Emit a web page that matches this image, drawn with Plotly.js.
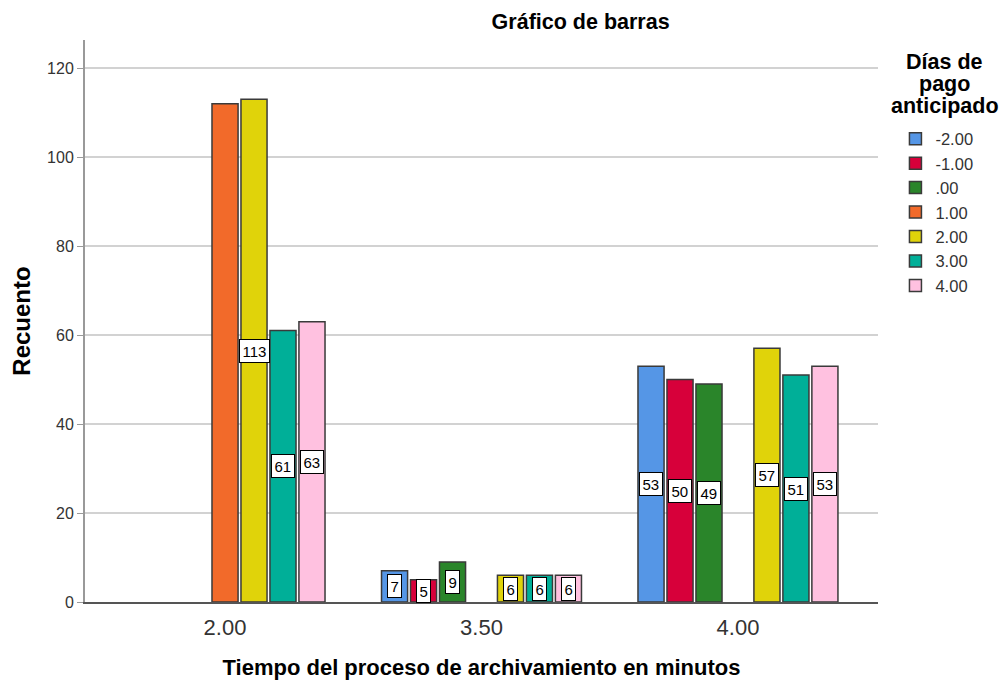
<!DOCTYPE html>
<html>
<head>
<meta charset="utf-8">
<script src="https://cdn.plot.ly/plotly-3.0.1.min.js"></script>
<style>html,body{margin:0;padding:0;background:#fff;}#chart{width:1004px;height:683px;}</style>
</head>
<body>
<div id="chart"></div>
<script>
const categories = ['2.00', '3.50', '4.00'];
const seriesNames = ['-2.00', '-1.00', '.00', '1.00', '2.00', '3.00', '4.00'];
const seriesColors = ['#5596E6', '#D7003A', '#2A852A', '#F26A2A', '#E0D30A', '#00AF98', '#FFC1E0'];
const valuesM2 = [null, 7, 53];
const valuesM1 = [null, 5, 50];
const values0  = [null, 9, 49];
const values1  = [112, null, null];
const values2  = [113, 6, 57];
const values3  = [61, 6, 51];
const values4  = [63, 6, 53];
const seriesValues = [valuesM2, valuesM1, values0, values1, values2, values3, values4];
// labels shown in the reference (the 1.00 bar at 2.00 carries no visible label)
const showLabel = [
  [false, true, true],
  [false, true, true],
  [false, true, true],
  [false, false, false],
  [true, true, true],
  [true, true, true],
  [true, true, true]
];
const legendTitleLines = ['Días de', 'pago', 'anticipado'];

const FONT = 'Liberation Sans, Arial, sans-serif';
const bargap = 0.209;
const nSeries = seriesNames.length;
const slot = (1 - bargap) / nSeries;

const traces = seriesNames.map((name, i) => ({
  type: 'bar',
  name: name,
  x: categories,
  y: seriesValues[i],
  marker: {color: seriesColors[i], line: {color: '#3a3a3a', width: 1.5}},
  hoverinfo: 'x+y+name'
}));

const annotations = [];
seriesValues.forEach((vals, i) => {
  vals.forEach((v, j) => {
    if (v === null || !showLabel[i][j]) return;
    annotations.push({
      x: j + (i - (nSeries - 1) / 2) * slot,
      y: v / 2,
      xref: 'x', yref: 'y',
      text: String(v),
      showarrow: false,
      font: {family: FONT, size: 15, color: '#000'},
      bgcolor: '#ffffff',
      bordercolor: '#000000',
      borderwidth: 1,
      borderpad: 2.5
    });
  });
});

// legend title drawn as tightly spaced lines (plot height 562 px, top margin 40 px)
legendTitleLines.forEach((line, k) => {
  annotations.push({
    xref: 'paper', yref: 'paper',
    x: 1.084, y: (602 - (62 + 22 * k)) / 562, xanchor: 'center', yanchor: 'middle',
    text: '<b>' + line + '</b>',
    showarrow: false,
    font: {family: FONT, size: 21.5, color: '#000'}
  });
});

const layout = {
  width: 1004, height: 683,
  margin: {l: 85, r: 126, t: 40, b: 81},
  paper_bgcolor: '#ffffff',
  plot_bgcolor: '#ffffff',
  barmode: 'group',
  bargap: bargap,
  bargroupgap: 0.1,
  title: {
    text: '<b>Gráfico de barras</b>',
    x: 0.625, xref: 'paper', xanchor: 'center',
    y: 0.969, yref: 'container', yanchor: 'middle',
    font: {family: FONT, size: 21.5, color: '#000'}
  },
  xaxis: {
    type: 'category',
    range: [-0.546, 2.546],
    showgrid: false,
    showline: true, linecolor: '#555', linewidth: 1.5,
    ticks: '', ticklen: 0,
    ticklabelstandoff: 5,
    tickfont: {family: FONT, size: 22, color: '#333'},
    title: {text: '<b>Tiempo del proceso de archivamiento en minutos</b>', standoff: 20,
            font: {family: FONT, size: 22, color: '#000'}},
    fixedrange: true
  },
  yaxis: {
    range: [0, 126.3],
    tickvals: [0, 20, 40, 60, 80, 100, 120],
    showgrid: true, gridcolor: '#d2d2d2', gridwidth: 2,
    zeroline: false,
    showline: true, linecolor: '#999', linewidth: 2,
    ticks: 'outside', ticklen: 6, tickcolor: '#999', tickwidth: 1,
    tickfont: {family: FONT, size: 16, color: '#333'},
    title: {text: '<b>Recuento</b>', standoff: 10,
            font: {family: FONT, size: 24, color: '#000'}},
    fixedrange: true
  },
  legend: {
    x: 1.022, xanchor: 'left',
    y: 0.855, yanchor: 'top',
    font: {family: FONT, size: 16.5, color: '#333'},
    tracegroupgap: 0,
    itemwidth: 30,
    bgcolor: 'rgba(0,0,0,0)'
  },
  showlegend: true,
  annotations: annotations
};

Plotly.newPlot('chart', traces, layout, {displayModeBar: false, staticPlot: true});
</script>
</body>
</html>
